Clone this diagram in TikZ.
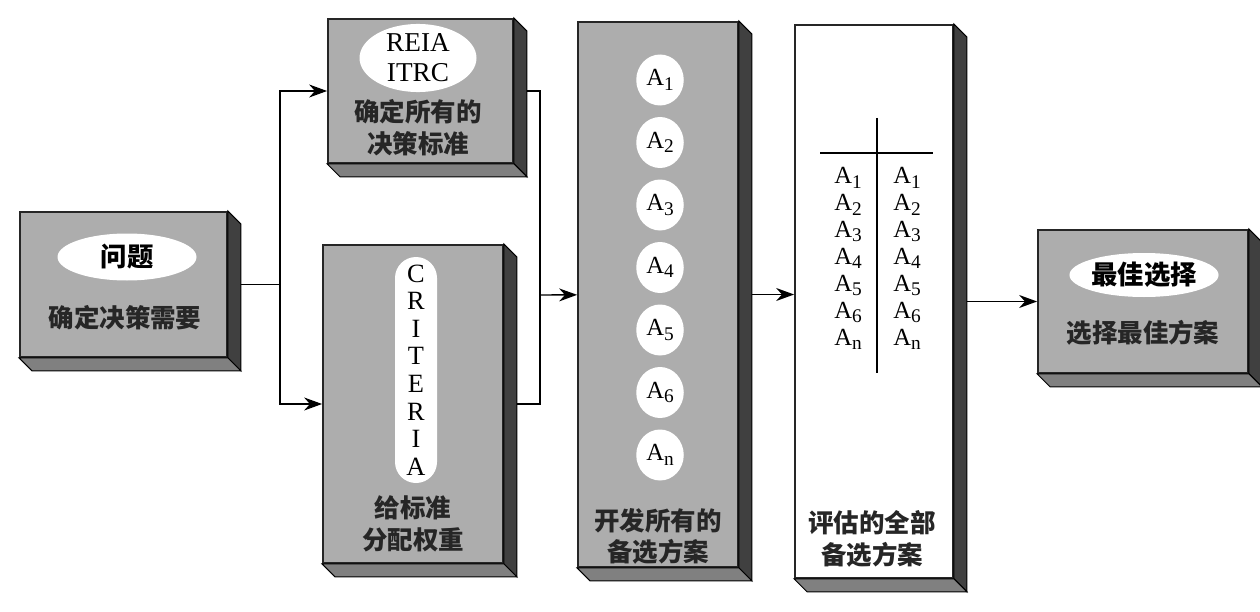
\documentclass[tikz,border=0pt]{standalone}
\usepackage{fontspec}
\setmainfont{Liberation Serif}
\newfontfamily\cjk{Noto Sans CJK SC}
\usetikzlibrary{shapes.geometric, positioning}
\usetikzlibrary{arrows.meta}
\tikzset{>={Stealth[width=2.6mm,length=3.6mm]}}
\newcommand{\Aopt}[1]{A\raisebox{-0.4ex}{\fontsize{11}{11}\selectfont #1}}

\begin{document}
\begin{tikzpicture}[box/.style={rectangle, draw=black!85, line width=1pt, fill=black!32, inner sep=0pt}, whitebox/.style={box, fill=white}, tag/.style={ellipse, fill=white, inner sep=0pt, font=\cjk\bfseries\fontsize{15}{18}\selectfont}, caption/.style={align=center, text=black!85, font=\cjk\bfseries\fontsize{14.5}{18}\selectfont}, opt/.style={ellipse, fill=white, inner sep=0pt, minimum width=0.95cm, minimum height=1.02cm, font=\fontsize{14}{16}\selectfont}, optlist/.style={align=center, inner sep=0pt, font=\fontsize{14}{15.3}\selectfont}, line width=0.8pt]

    \useasboundingbox (0,0) rectangle (25.2,-12.24);

    %Boxes
    \node[box, minimum width=4.14cm, minimum height=2.9cm](need) at (2.47,-5.69){};
    \node[box, minimum width=3.7cm, minimum height=2.88cm](crit) at (8.41,-1.82){};
    \node[box, minimum width=3.6cm, minimum height=6.36cm](weight) at (8.26,-8.08){};
    \node[box, minimum width=3.2cm, minimum height=10.9cm](alts) at (13.16,-5.89){};
    \node[whitebox, minimum width=3.16cm, minimum height=11.06cm](eval) at (17.48,-6.03){};
    \node[box, minimum width=4.2cm, minimum height=2.86cm](best) at (22.86,-6.03){};

    %Inside the boxes
    \node[tag, minimum width=2.78cm, minimum height=0.94cm](needtag) at (2.54,-5.14){问题};
    \node[caption](needtxt) at (2.5,-6.36){确定决策需要};

    \node[tag, minimum width=2.34cm, minimum height=1.26cm, align=center, font=\fontsize{15.5}{17}\selectfont](crittag) at (8.36,-1.16){REIA\\ITRC};
    \node[caption](crittxt) at (8.36,-2.55){确定所有的\\决策标准};

    \node[rectangle, rounded corners=0.42cm, fill=white, minimum width=0.84cm, minimum height=4.52cm](weighttag) at (8.32,-7.4){};
    \node[align=center, font=\fontsize{15}{15.7}\selectfont](weightletters) at (weighttag){C\\R\\I\\T\\E\\R\\I\\A};
    \node[caption](weighttxt) at (8.26,-10.47){给标准\\分配权重};

    \foreach \i/\s in {1/1,2/2,3/3,4/4,5/5,6/6,7/n}
        \node[opt](alt\i) at (13.2,{-1.6-1.25*(\i-1)}){\Aopt{\s}};
    \node[caption](altstxt) at (13.16,-10.73){开发所有的\\备选方案};

    \draw (17.54,-2.36) -- (17.54,-7.45);
    \draw (16.4,-3.06) -- (18.66,-3.06);
    \node[optlist](leftcol) at (16.96,-5.17){\Aopt1\\\Aopt2\\\Aopt3\\\Aopt4\\\Aopt5\\\Aopt6\\\Aopt{n}};
    \node[optlist](rightcol) at (18.14,-5.17){\Aopt1\\\Aopt2\\\Aopt3\\\Aopt4\\\Aopt5\\\Aopt6\\\Aopt{n}};
    \node[caption](evaltxt) at (17.44,-10.78){评估的全部\\备选方案};

    \node[tag, minimum width=2.76cm, minimum height=0.88cm](besttag) at (22.88,-5.5){最佳选择};
    \node[caption](besttxt) at (22.86,-6.66){选择最佳方案};

    %Lines
    \coordinate (split) at (5.6,-5.69);
    \coordinate (merge) at (10.8,-5.9);
    \draw (need.east) -- (split);
    \draw[->] (split) |- (crit);
    \draw[->] (split) |- (weight);
    \draw (crit.east) -| (merge);
    \draw (weight.east) -| (merge);
    \draw[->] (merge) -- (alts);
    \draw[->] (alts.east) -- (alts.east -| eval.west);
    \draw[->] (eval.east) -- (eval.east -| best.west);

    %Sides
    \foreach \b in {need,crit,weight,alts,eval,best}{
        \filldraw[fill=black!75, draw=black, line width=0.6pt] (\b.north east) -- ++(0.26,-0.26) -- ([shift={(0.26,-0.26)}]\b.south east) -- (\b.south east) -- cycle;
        \filldraw[fill=black!50, draw=black, line width=0.6pt] (\b.south west) -- (\b.south east) -- ([shift={(0.26,-0.26)}]\b.south east) -- ([shift={(0.26,-0.26)}]\b.south west) -- cycle;
    }

\end{tikzpicture}
\end{document}
